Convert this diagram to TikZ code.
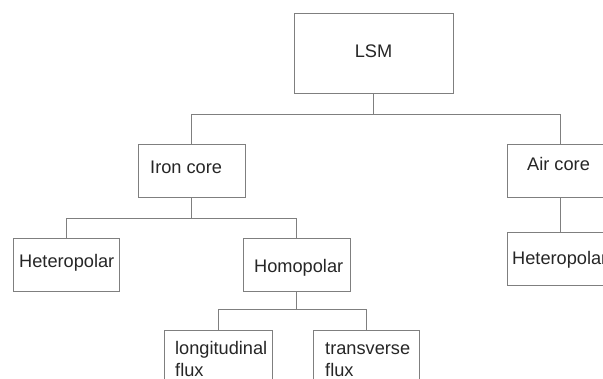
\documentclass[tikz,border=0pt]{standalone}
\usepackage{fontspec}
\setmainfont{Liberation Sans}
\definecolor{edge}{HTML}{7F7F7F}
\definecolor{ink}{HTML}{262626}
\begin{document}
\begin{tikzpicture}[x=1pt,y=-1pt,
  box/.style={draw=edge, line width=0.9pt, rectangle, inner sep=0pt, minimum width=#1, minimum height=53pt},
  lbl/.style={anchor=base west, inner sep=0pt, text=ink, font=\fontsize{18.2}{21.5}\selectfont, align=left},
  conn/.style={draw=edge, line width=0.9pt}]
\useasboundingbox (0,0) rectangle (603,378);
\fill[white] (0,0) rectangle (603,378);
\clip (0,0) rectangle (603,378);
% boxes
\node[box=159pt, minimum height=80pt] (lsm) at (373.5,53) {};
\node[box=107pt] (iron) at (191.5,170.5) {};
\node[box=106pt] (air) at (560,170.5) {};
\node[box=106pt] (hetl) at (66,264.5) {};
\node[box=107pt] (homo) at (296.5,264.5) {};
\node[box=106pt] (hetr) at (560,258.5) {};
\node[box=108pt] (long) at (218,356.5) {};
\node[box=106pt] (trans) at (366,356.5) {};
% texts
\node[lbl, anchor=base] (lsmT) at (373.5,57) {LSM};
\node[lbl] (ironT) at (150,173) {Iron core};
\node[lbl] (airT) at (527,170) {Air core};
\node[lbl] (hetlT) at (19,267) {Heteropolar};
\node[lbl] (homoT) at (254,272) {Homopolar};
\node[lbl] (hetrT) at (512,264) {Heteropolar};
\node[lbl] (longT) at (175,376) {longitudinal\\flux};
\node[lbl] (transT) at (325,376) {transverse\\flux};
% connectors
\draw[conn] (lsm.south) -- ++(0,21) coordinate (j1);
\draw[conn] (iron.north) |- (j1) -| (air.north);
\draw[conn] (iron.south) -- ++(0,21) coordinate (j2);
\draw[conn] (hetl.north) |- (j2) -| (homo.north);
\draw[conn] (homo.south) -- ++(0,17.5) coordinate (j3);
\draw[conn] (long.north) |- (j3) -| (trans.north);
\draw[conn] (air.south) -- (hetr.north);
\end{tikzpicture}
\end{document}
